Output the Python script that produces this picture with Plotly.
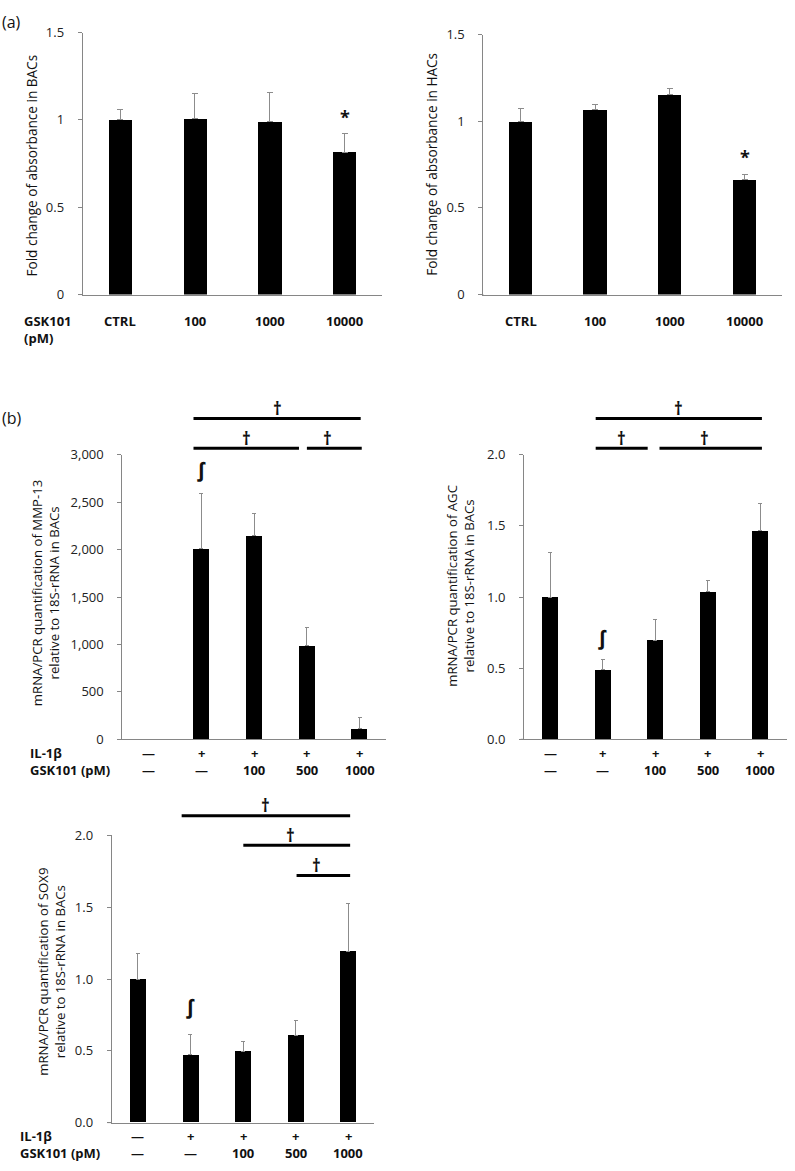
import plotly.graph_objects as go

W, H = 795, 1171
FONT = "Open Sans"

# ---------------- data ----------------
a_categories = ["CTRL", "100", "1000", "10000"]
bacs_absorbance = [1.00, 1.01, 0.99, 0.816]
bacs_absorbance_err = [0.058, 0.14, 0.168, 0.109]
hacs_absorbance = [1.00, 1.066, 1.152, 0.663]
hacs_absorbance_err = [0.074, 0.029, 0.039, 0.030]

b_il1b = ["—", "+", "+", "+", "+"]
b_gsk = ["—", "—", "100", "500", "1000"]
mmp13 = [1, 2007, 2149, 986, 114]
mmp13_err = [0, 588, 232, 191, 111]
agc = [1.00, 0.489, 0.697, 1.038, 1.465]
agc_err = [0.315, 0.072, 0.145, 0.079, 0.192]
sox9 = [1.00, 0.471, 0.498, 0.605, 1.191]
sox9_err = [0.181, 0.141, 0.064, 0.103, 0.336]

# significance brackets: (from group, to group, height in data units)
mmp13_sig = [(0.85, 4.02, 3381), (0.85, 2.85, 3069), (3.0, 4.04, 3069)]
agc_sig = [(0.865, 4.03, 2.254), (0.865, 1.855, 2.046), (2.08, 4.03, 2.046)]
sox9_sig = [(0.832, 4.04, 2.137), (2.006, 4.04, 1.931), (3.02, 4.04, 1.721)]
# markers: (group, height, symbol)
a_left_marks = [(3, 1.015, "*")]
a_right_marks = [(3, 0.795, "*")]
mmp13_marks = [(1, 2841, "∫")]
agc_marks = [(1, 0.716, "∫")]
sox9_marks = [(1, 0.807, "∫")]


def px(x):
    return x / W


def py(y):
    return 1 - y / H


fig = go.Figure()

panels = [
    dict(v=bacs_absorbance, e=bacs_absorbance_err, s="", xd=(82.7, 382), yd=(24, 290),
         yr=1.5, dt=0.5, tf="", bw=0.31, cap=3, ext=4.7),
    dict(v=hacs_absorbance, e=hacs_absorbance_err, s="2", xd=(483.3, 782), yd=(26, 290),
         yr=1.5, dt=0.5, tf="", bw=0.31, cap=3, ext=3.3),
    dict(v=mmp13, e=mmp13_err, s="3", xd=(122.3, 386), yd=(452.7, 741.7),
         yr=3000, dt=500, tf=",", bw=0.30, cap=2, ext=0),
    dict(v=agc, e=agc_err, s="4", xd=(524, 786.6), yd=(452.7, 741.7),
         yr=2.0, dt=0.5, tf=".1f", bw=0.30, cap=2, ext=3.3),
    dict(v=sox9, e=sox9_err, s="5", xd=(111.7, 374.3), yd=(839.3, 1131),
         yr=2.0, dt=0.5, tf=".1f", bw=0.30, cap=2, ext=4.4),
]

GRAY = "#868686"
shapes = []
for p in panels:
    n = len(p["v"])
    fig.add_trace(go.Bar(
        x=list(range(n)), y=p["v"], width=p["bw"],
        marker=dict(color="black", line=dict(width=0)),
        error_y=dict(type="data", symmetric=False, array=p["e"],
                     arrayminus=[0] * n, color="#8c8c8c", thickness=1, width=p["cap"]),
        xaxis="x" + p["s"], yaxis="y" + p["s"], showlegend=False, hoverinfo="skip",
    ))
    fig.layout["xaxis" + p["s"]] = dict(
        domain=[px(p["xd"][0]), px(p["xd"][1])], range=[-0.5, n - 0.5],
        showticklabels=False, showgrid=False, zeroline=False, showline=True,
        linecolor=GRAY, linewidth=1, ticks="", anchor="y" + p["s"], fixedrange=True,
    )
    fig.layout["yaxis" + p["s"]] = dict(
        domain=[py(p["yd"][1]), py(p["yd"][0])], range=[0, p["yr"]], dtick=p["dt"],
        tickformat=p["tf"], showgrid=False, zeroline=False, showline=True,
        linecolor=GRAY, linewidth=1, ticks="outside", ticklen=4, tickcolor=GRAY,
        ticklabelstandoff=11,
        tickfont=dict(family=FONT, size=13, color="#222"), anchor="x" + p["s"],
        fixedrange=True,
    )
    if p["ext"]:
        # the category axis line runs a few pixels past the value axis, as in the original
        width_px = p["xd"][1] - p["xd"][0]
        shapes.append(dict(type="line", xref="x" + p["s"] + " domain", yref="y" + p["s"] + " domain",
                           x0=-p["ext"] / width_px, x1=0, y0=0, y1=0,
                           line=dict(color=GRAY, width=1)))

ann = []


def label(text, x, y, xref="paper", yref="paper", size=13, bold=False, **kw):
    t = f"<b>{text}</b>" if bold else text
    d = dict(text=t, x=x, y=y, xref=xref, yref=yref, showarrow=False,
             font=dict(family=FONT, size=size, color="#111"))
    d.update(kw)
    ann.append(d)


# panel letters
label("(a)", 0, py(13), xanchor="left", yanchor="middle", size=16)
label("(b)", 0, py(415), xanchor="left", yanchor="middle", size=16)

# y-axis titles
ytitles = [
    ("Fold change of absorbance in BACs", 32, 159, 13.6),
    ("Fold change of absorbance in HACs", 432, 158.3, 13.6),
    ("mRNA/PCR quantification of MMP-13<br>relative to 18S-rRNA in BACs", 45, 593.3, 13.2),
    ("mRNA/PCR quantification of AGC<br>relative to 18S-rRNA in BACs", 461, 585.8, 13.2),
    ("mRNA/PCR quantification of SOX9<br>relative to 18S-rRNA in BACs", 51.5, 978.3, 13.2),
]
for t, x, y, fs in ytitles:
    label(t, px(x), py(y), textangle=-90, xanchor="center", yanchor="middle", size=fs)

# panel (a) category labels
for s in ["", "2"]:
    for i, c in enumerate(a_categories):
        label(c, i, 0, xref="x" + s, yref="y" + s + " domain", bold=True,
              yanchor="middle", yshift=-26)
label("GSK101", px(21.7), 0, yref="y domain", bold=True, xanchor="left",
      yanchor="middle", yshift=-26)
label("(pM)", px(21.7), 0, yref="y domain", bold=True, xanchor="left",
      yanchor="middle", yshift=-43)

# panel (b) condition rows
for s in ["3", "4", "5"]:
    for i in range(len(b_il1b)):
        label(b_il1b[i], i, 0, xref="x" + s, yref="y" + s + " domain", bold=True,
              yanchor="middle", yshift=-13.5)
        label(b_gsk[i], i, 0, xref="x" + s, yref="y" + s + " domain", bold=True,
              yanchor="middle", yshift=-30.5)
for s, x in [("3", 28.3), ("5", 18.3)]:
    label("IL-1β", px(x), 0, yref="y" + s + " domain", bold=True, xanchor="left",
          yanchor="middle", yshift=-13.5)
    label("GSK101 (pM)", px(x), 0, yref="y" + s + " domain", bold=True, xanchor="left",
          yanchor="middle", yshift=-30.5)

# significance markers
for s, marks in [("", a_left_marks), ("2", a_right_marks)]:
    for g, y, sym in marks:
        label(sym, g, y, xref="x" + s, yref="y" + s, size=18, bold=True, yanchor="middle")
for s, marks in [("3", mmp13_marks), ("4", agc_marks), ("5", sox9_marks)]:
    for g, y, sym in marks:
        label(sym, g, y, xref="x" + s, yref="y" + s, size=20, bold=True, yanchor="middle")

for s, sig, n, ymax in [("3", mmp13_sig, 5, 3000), ("4", agc_sig, 5, 2.0), ("5", sox9_sig, 5, 2.0)]:
    for g0, g1, y in sig:
        shapes.append(dict(type="line", xref="x" + s + " domain", yref="y" + s + " domain",
                           x0=(g0 + 0.5) / n, x1=(g1 + 0.5) / n, y0=y / ymax, y1=y / ymax,
                           line=dict(color="black", width=3)))
        label("†", ((g0 + g1) / 2 + 0.5) / n, y / ymax, xref="x" + s + " domain",
              yref="y" + s + " domain", size=17, bold=True, yanchor="middle", yshift=10)

fig.update_layout(
    width=W, height=H, margin=dict(l=0, r=0, t=0, b=0),
    paper_bgcolor="white", plot_bgcolor="white",
    annotations=ann, shapes=shapes, bargap=0, hovermode=False,
    font=dict(family=FONT, size=13, color="#111"),
)

fig.write_html("out.html", config={"displayModeBar": False},
               post_script="document.body.style.margin='0';document.body.style.padding='0';")
